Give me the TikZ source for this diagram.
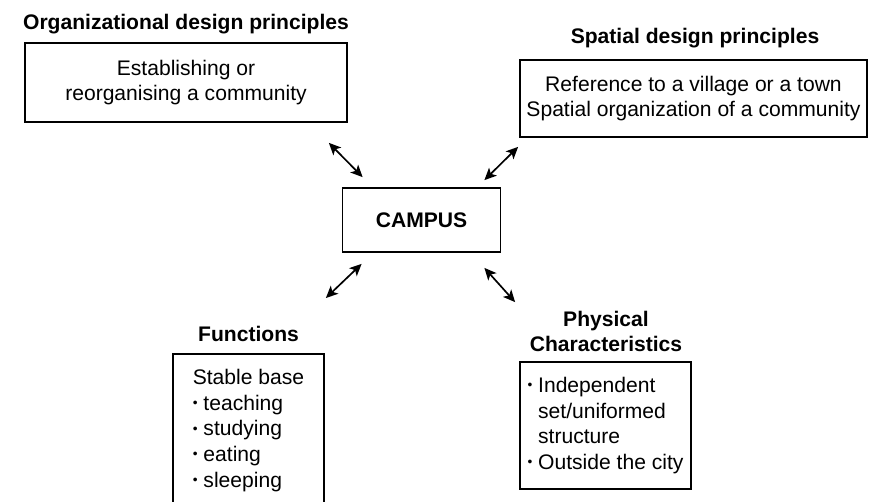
\documentclass[tikz,border=0pt]{standalone}
\usepackage{fontspec}
\setmainfont{Liberation Sans}
\usepackage{tikz}
\usetikzlibrary{arrows.meta}
\newcommand{\blt}{\raisebox{0.25ex}{\scalebox{0.65}{\textbullet}}\ }

\begin{document}
\begin{tikzpicture}[
squarednode/.style={rectangle, draw=black, line width=1pt, font=\fontsize{12}{14.6}\selectfont, align=center},
titlenode/.style={font=\fontsize{12}{14.6}\selectfont\bfseries, align=center},
twoway arrow/.style={{Stealth[length=2.4mm,width=2.2mm,inset=0.6mm]}-{Stealth[length=2.4mm,width=2.2mm,inset=0.6mm]}, line width=0.95pt}
]
\clip (0,0) rectangle (17.5,-10.02);

%Nodes
\node[titlenode] at (3.72,-0.49) (ORG-T) {Organizational design principles};
\node[draw,squarednode,minimum width=6.44cm,minimum height=1.58cm] at (3.72,-1.65) (ORG) {Establishing or\\reorganising a community};

\node[titlenode] at (13.9,-0.77) (SPATIAL-T) {Spatial design principles};
\node[draw,squarednode,minimum width=6.94cm,minimum height=1.54cm] at (13.87,-1.97) (SPATIAL) {Reference to a village or a town\\Spatial organization of a community};

\node[draw,squarednode,font=\fontsize{12}{14.6}\selectfont\bfseries,minimum width=3.16cm,minimum height=1.28cm] at (8.43,-4.4) (CAMPUS) {CAMPUS};

\node[titlenode] at (4.97,-6.68) (FUNC-T) {Functions};
\node[draw,squarednode,align=left,anchor=north,minimum width=3.02cm,inner ysep=0.31cm] at (4.97,-7.06) (FUNC) {Stable base\\\blt teaching\\\blt studying\\\blt eating\\\blt sleeping\\ \\ };

\node[titlenode] at (12.12,-6.63) (PHYS-T) {Physical\\Characteristics};
\node[draw,squarednode,align=left,minimum width=3.42cm,minimum height=2.54cm] at (12.11,-8.51) (PHYS) {\blt Independent\\\phantom{\blt}set/uniformed\\\phantom{\blt}structure\\\blt Outside the city};

%Lines
\draw[twoway arrow] ([shift={(-0.38,-0.4)}]ORG.south east) -- ([shift={(0.42,0.2)}]CAMPUS.north west);
\draw[twoway arrow] ([shift={(-0.34,0.14)}]CAMPUS.north east) -- ([shift={(-0.02,-0.18)}]SPATIAL.south west);
\draw[twoway arrow] ([shift={(0.4,-0.22)}]CAMPUS.south west) -- ([shift={(0.02,1.1)}]FUNC.north east);
\draw[twoway arrow] ([shift={(-0.34,-0.3)}]CAMPUS.south east) -- ([shift={(-0.08,1.18)}]PHYS.north west);
\end{tikzpicture}
\end{document}
